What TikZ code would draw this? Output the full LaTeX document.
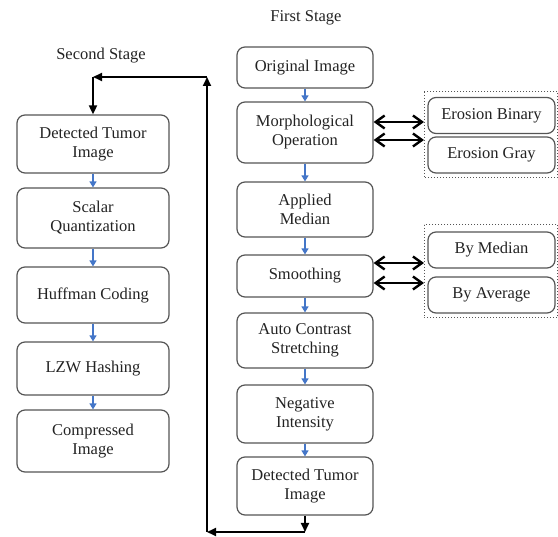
\documentclass[tikz,border=0pt]{standalone}
\usepackage{fontspec}
\setmainfont{Liberation Serif}
\usetikzlibrary{arrows.meta,positioning,fit}
\definecolor{boxline}{RGB}{85,85,85}
\definecolor{flowblue}{RGB}{68,118,200}
\definecolor{txtgray}{RGB}{35,35,35}

\begin{document}
\begin{tikzpicture}[x=1pt,y=-1pt,
  box/.style={draw=boxline, line width=1.2pt, rounded corners=8pt, align=center,
    text=txtgray, font=\fontsize{16.5}{19}\selectfont, inner sep=2pt},
  rbox/.style={box, minimum width=136pt},
  lbox/.style={box, minimum width=152pt},
  sbox/.style={box, minimum width=127pt, minimum height=36pt},
  grp/.style={draw=boxline, dotted, line width=1pt, inner sep=0pt},
  flow/.style={-{Triangle[length=6pt,width=7pt]}, draw=flowblue, line width=1.3pt},
  loopline/.style={-{Triangle[length=9pt,width=8pt]}, line width=1.8pt},
  dbl/.style={{Straight Barb[length=9pt,width=13pt]}-{Straight Barb[length=9pt,width=13pt]}, line width=2.4pt},
  stage/.style={text=txtgray, font=\fontsize{16.5}{19}\selectfont}
]
  \useasboundingbox (0,0) rectangle (558,537);

  %% first stage
  \node[stage] (first) at (306,18) {First Stage};
  \node[rbox, minimum height=41pt] (orig) at (305,67.5) {Original Image};
  \node[rbox, minimum height=61pt] (morph) at (305,132.5) {Morphological\\Operation};
  \node[rbox, minimum height=55pt] (median) at (305,209.5) {Applied\\Median};
  \node[rbox, minimum height=42pt] (smooth) at (305,276) {Smoothing};
  \node[rbox, minimum height=55pt] (contrast) at (305,340.5) {Auto Contrast\\Stretching};
  \node[rbox, minimum height=58pt] (neg) at (305,414) {Negative\\Intensity};
  \node[rbox, minimum height=58pt] (dtiR) at (305,486) {Detected Tumor\\Image};

  %% side options
  \node[sbox] (erobin) at (491.5,115.5) {Erosion Binary};
  \node[sbox] (erogray) at (491.5,155) {Erosion Gray};
  \node[sbox] (bymed) at (491.5,250) {By Median};
  \node[sbox] (byavg) at (491.5,295) {By Average};
  \draw[grp] (424,92) rectangle (557.5,178);
  \draw[grp] (424,225) rectangle (557.5,318);
  \coordinate (grpA) at (424,135);
  \coordinate (grpB) at (424,271);

  %% second stage
  \node[stage] (second) at (101,56) {Second Stage};
  \node[lbox, minimum height=58pt] (dtiL) at (93,144) {Detected Tumor\\Image};
  \node[lbox, minimum height=60pt] (scalar) at (93,218) {Scalar\\Quantization};
  \node[lbox, minimum height=56pt] (huff) at (93,295) {Huffman Coding};
  \node[lbox, minimum height=53pt] (lzw) at (93,368.5) {LZW Hashing};
  \node[lbox, minimum height=62pt] (comp) at (93,441) {Compressed\\Image};

  %% blue flow arrows
  \foreach \a/\b in {orig/morph, morph/median, median/smooth, smooth/contrast,
                     contrast/neg, neg/dtiR, dtiL/scalar, scalar/huff, huff/lzw, lzw/comp}
    \draw[flow] (\a.south) -- (\b.north);

  %% double arrows to the options
  \coordinate (m1) at ([yshift=10.5pt]morph.east);
  \coordinate (m2) at ([yshift=-7.5pt]morph.east);
  \coordinate (s1) at ([yshift=13pt]smooth.east);
  \coordinate (s2) at ([yshift=-7pt]smooth.east);
  \draw[dbl] (m1) -- (m1 -| grpA);
  \draw[dbl] (m2) -- (m2 -| grpA);
  \draw[dbl] (s1) -- (s1 -| grpB);
  \draw[dbl] (s2) -- (s2 -| grpB);

  %% loop from first stage to second stage
  \coordinate (lc) at (207,532);
  \coordinate (lt) at (207,77);
  \coordinate (lb) at (dtiR.south |- lc);
  \coordinate (ld) at (dtiL.north |- lt);
  \draw[loopline] (dtiR.south) -- (lb);
  \draw[loopline] (lb) -- (lc);
  \draw[loopline] (lc) -- (lt);
  \draw[loopline] (lt) -- (ld);
  \draw[loopline] (ld) -- (dtiL.north);
\end{tikzpicture}
\end{document}
